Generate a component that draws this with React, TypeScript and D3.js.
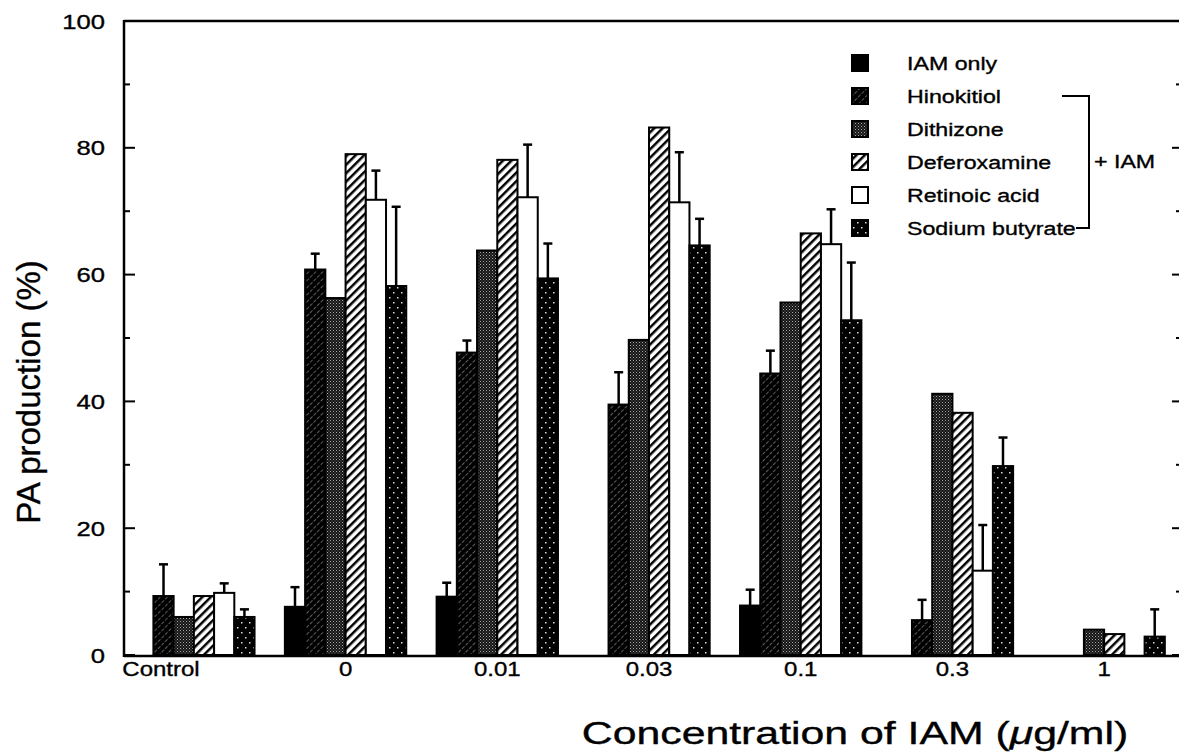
import React from "react";
import * as d3 from "d3";

const groups = ["Control", "0", "0.01", "0.03", "0.1", "0.3", "1"];
const seriesNames = [
  "IAM only",
  "Hinokitiol",
  "Dithizone",
  "Deferoxamine",
  "Retinoic acid",
  "Sodium butyrate",
];

// mean values per series, one entry per group (null = no bar)
const iamOnly = [null, 7.6, 9.2, null, 7.8, null, null];
const hinokitiol = [9.3, 60.8, 47.7, 39.5, 44.4, 5.5, null];
const dithizone = [6.0, 56.3, 63.8, 49.7, 55.6, 41.2, 4.0];
const deferoxamine = [9.3, 79.0, 78.1, 83.2, 66.5, 38.2, 3.3];
const retinoicAcid = [9.8, 71.8, 72.2, 71.4, 64.8, 13.3, null];
const sodiumButyrate = [6.0, 58.2, 59.4, 64.6, 52.8, 29.8, 2.9];

// upper error (SD) per series
const iamOnlyErr = [null, 3.1, 2.2, null, 2.5, null, null];
const hinokitiolErr = [5.0, 2.5, 1.9, 5.1, 3.6, 3.2, null];
const dithizoneErr = [null, null, null, null, null, null, null];
const deferoxamineErr = [null, null, null, null, null, null, null];
const retinoicAcidErr = [1.5, 4.6, 8.3, 7.9, 5.5, 7.2, null];
const sodiumButyrateErr = [1.2, 12.5, 5.5, 4.2, 9.1, 4.5, 4.3];

const yTicks = [0, 20, 40, 60, 80, 100];
const yMinorTicks = [10, 30, 50, 70, 90];

const values = [iamOnly, hinokitiol, dithizone, deferoxamine, retinoicAcid, sodiumButyrate];
const errors = [iamOnlyErr, hinokitiolErr, dithizoneErr, deferoxamineErr, retinoicAcidErr, sodiumButyrateErr];
const fills = ["#000", "url(#hino)", "url(#dithi)", "url(#defer)", "#fff", "url(#sodium)"];

const W = 1179;
const H = 752;
const FONT = "'Liberation Sans', Arial, Helvetica, sans-serif";

// text drawn slightly stretched horizontally, like the scan
const Wide = ({ x, y, size, anchor = "start", sx = 1.22, children }: any) => (
  <text transform={`translate(${x},${y}) scale(${sx},1)`} textAnchor={anchor} fontSize={size}
    stroke="#000" strokeWidth={0.35}>
    {children}
  </text>
);

export default function App() {
  const axisX = 124;
  const x0 = d3.scaleBand<string>().domain(groups).range([118, 1180]).paddingInner(0.2).paddingOuter(0.1);
  const x1 = d3.scaleBand<string>().domain(seriesNames).range([0, x0.bandwidth()]);
  const y = d3.scaleLinear().domain([0, 100]).range([655, 21]);

  const bars: React.ReactNode[] = [];
  const errs: React.ReactNode[] = [];
  seriesNames.forEach((s, si) => {
    groups.forEach((g, gi) => {
      const v = values[si][gi];
      if (v == null) return;
      const bx = (x0(g) as number) + (x1(s) as number);
      const bw = x1.bandwidth();
      bars.push(
        <rect key={`b-${si}-${gi}`} x={bx} y={y(v)} width={bw} height={y(0) - y(v)}
          fill={fills[si]} stroke="#000" strokeWidth={2} />
      );
      const e = errors[si][gi];
      if (e != null) {
        const cx = bx + bw / 2;
        errs.push(
          <g key={`e-${si}-${gi}`} stroke="#000">
            <line x1={cx} x2={cx} y1={y(v)} y2={y(v + e)} strokeWidth={2.5} />
            <line x1={cx - 4.5} x2={cx + 4.5} y1={y(v + e)} y2={y(v + e)} strokeWidth={2.5} />
          </g>
        );
      }
    });
  });

  const legendY = (i: number) => 63 + i * 33;

  return (
    <svg width={W} height={H} style={{ position: "absolute", left: 0, top: 0, background: "#fff" }}
      fontFamily={FONT}>
      <defs>
        <pattern id="hino" width={5} height={5} patternUnits="userSpaceOnUse" patternTransform="rotate(45)">
          <rect width={5} height={5} fill="#000" />
          <line x1={0} y1={0} x2={0} y2={5} stroke="#bbb" strokeWidth={1} strokeDasharray="2 1.5" />
        </pattern>
        <pattern id="dithi" width={3} height={3} patternUnits="userSpaceOnUse">
          <rect width={3} height={3} fill="#141414" />
          <rect width={1} height={1} fill="#aaa" />
          <rect x={1.5} y={1.5} width={1} height={1} fill="#777" />
        </pattern>
        <pattern id="defer" width={6} height={6} patternUnits="userSpaceOnUse" patternTransform="rotate(45)">
          <rect width={6} height={6} fill="#fff" />
          <line x1={0} y1={0} x2={0} y2={6} stroke="#000" strokeWidth={5} />
        </pattern>
        <pattern id="sodium" width={8} height={10} patternUnits="userSpaceOnUse">
          <rect width={8} height={10} fill="#000" />
          <rect x={1} y={2} width={1.5} height={1.5} fill="#ddd" />
          <rect x={5} y={7} width={1.5} height={1.5} fill="#ddd" />
        </pattern>
      </defs>

      {bars}
      {errs}

      {/* frame */}
      <line x1={axisX} x2={W} y1={21} y2={21} stroke="#000" strokeWidth={2.5} />
      <line x1={axisX} x2={axisX} y1={20} y2={657} stroke="#000" strokeWidth={2.5} />
      <line x1={axisX} x2={W} y1={656} y2={656} stroke="#000" strokeWidth={2.5} />

      {/* y ticks, left and right */}
      {yTicks.map((t) => (
        <g key={`yt-${t}`}>
          <line x1={axisX} x2={axisX + 11} y1={y(t)} y2={y(t)} stroke="#000" strokeWidth={2} />
          <line x1={W - 7} x2={W} y1={y(t)} y2={y(t)} stroke="#000" strokeWidth={2} />
          <Wide x={105} y={y(t) + 7.5} size={21} anchor="end">{t}</Wide>
        </g>
      ))}
      {yMinorTicks.map((t) => (
        <g key={`ym-${t}`}>
          <line x1={axisX} x2={axisX + 6} y1={y(t)} y2={y(t)} stroke="#000" strokeWidth={2} />
          <line x1={W - 3} x2={W} y1={y(t)} y2={y(t)} stroke="#000" strokeWidth={2} />
        </g>
      ))}

      {/* x labels */}
      {groups.map((g, i) => (
        <Wide key={`xl-${g}`} x={i === 0 ? 161 : (x0(g) as number) + x0.bandwidth() / 2}
          y={676} size={20} anchor="middle" sx={1.2}>
          {g}
        </Wide>
      ))}

      <Wide x={855} y={744} size={31} anchor="middle" sx={1.38}>
        Concentration of IAM (<tspan fontStyle="italic">μ</tspan>g/ml)
      </Wide>
      <text transform="translate(40,392) rotate(-90)" textAnchor="middle" fontSize={33}
        stroke="#000" strokeWidth={0.35}>
        PA production (%)
      </text>

      {/* legend */}
      {seriesNames.map((s, i) => (
        <g key={`lg-${s}`}>
          <rect x={852} y={legendY(i) - 8} width={16} height={16} fill={fills[i]} stroke="#000" strokeWidth={2} />
          <Wide x={907} y={legendY(i) + 7} size={19}>{s}</Wide>
        </g>
      ))}
      <path d={`M1062,${legendY(1)} H1089 V${legendY(5)} H1076`} fill="none" stroke="#000" strokeWidth={2} />
      <Wide x={1094} y={legendY(3) + 6} size={19}>+ IAM</Wide>
    </svg>
  );
}
